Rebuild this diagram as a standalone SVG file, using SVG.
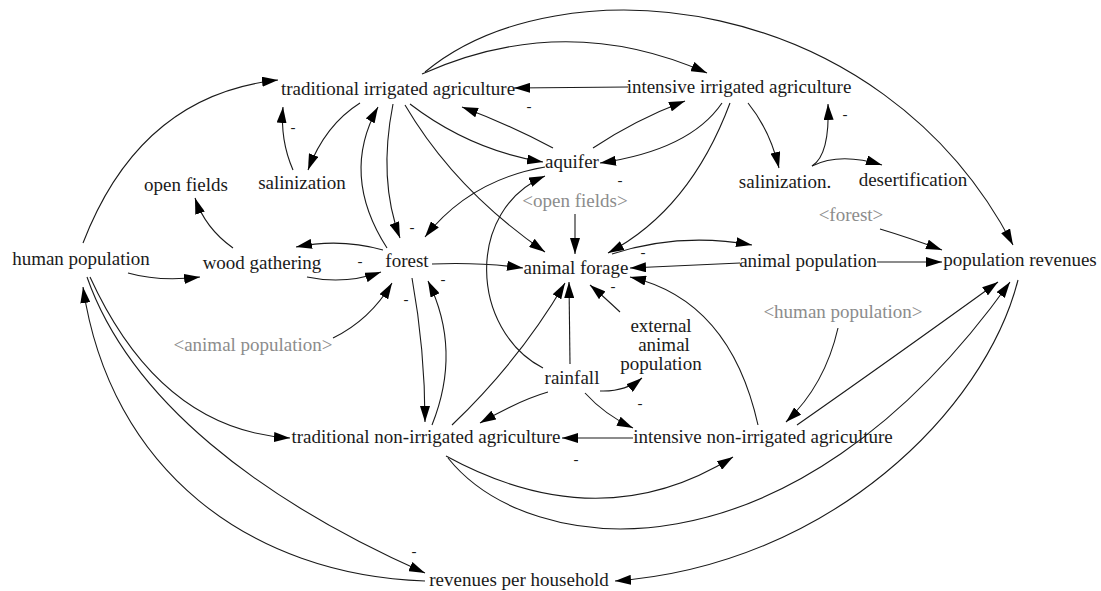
<svg xmlns="http://www.w3.org/2000/svg" width="1101" height="591" viewBox="0 0 1101 591">
<style>
.n{font-family:"Liberation Serif","Times New Roman",serif;font-size:19px;fill:#1a1a1a;text-anchor:middle}
.g{font-family:"Liberation Serif","Times New Roman",serif;font-size:19px;fill:#8c8c8c;text-anchor:middle}
.p{font-family:"Liberation Serif","Times New Roman",serif;font-size:15px;fill:#1a1a1a;text-anchor:middle}
.c{fill:none;stroke:#1a1a1a;stroke-width:1.1;marker-end:url(#ah)}
.c0{fill:none;stroke:#1a1a1a;stroke-width:1.1}
</style>
<defs>
<marker id="ah" markerUnits="userSpaceOnUse" markerWidth="17" markerHeight="10" refX="16" refY="5" orient="auto" viewBox="0 0 17 10">
<path d="M0,0 L16,5 L0,10 z" fill="#000"/>
</marker>
</defs>
<rect width="1101" height="591" fill="#fff"/>
<g id="connectors">
<path class="c" d="M83,243 Q140,95 278,80"/>
<path class="c" d="M422,74 Q565,10 707,73"/>
<path class="c" d="M425,72 C560,-40 880,-10 1013,245"/>
<path class="c" d="M628,87 L514,88"/>
<path class="c" d="M553,148 Q510,125 462,107"/>
<path class="c" d="M593,148 Q635,120 685,101"/>
<path class="c" d="M410,104 Q470,150 543,162"/>
<path class="c" d="M722,103 Q690,150 600,163"/>
<path class="c" d="M360,103 Q325,125 308,170"/>
<path class="c" d="M293,170 Q280,140 283,107"/>
<path class="c" d="M387,248 Q340,175 378,107"/>
<path class="c" d="M393,104 Q378,180 400,238"/>
<path class="c" d="M545,167 Q470,180 425,237"/>
<path class="c" d="M405,105 Q455,190 545,252"/>
<path class="c" d="M543,368 C470,330 465,210 545,176"/>
<path class="c" d="M575,214 L575,254"/>
<path class="c" d="M730,103 Q690,210 608,253"/>
<path class="c" d="M748,103 Q770,130 779,168"/>
<path class="c" d="M812,166 Q830,155 828,104"/>
<path class="c" d="M812,166 Q840,152 882,165"/>
<path class="c" d="M880,229 Q910,238 942,250"/>
<path class="c" d="M877,262 L942,262"/>
<path class="c" d="M612,254 Q680,232 752,245"/>
<path class="c" d="M740,263 L630,268"/>
<path class="c" d="M432,264 Q480,262 523,268"/>
<path class="c" d="M570,364 L569,282"/>
<path class="c" d="M452,425 Q520,360 565,283"/>
<path class="c" d="M620,312 Q603,296 590,285"/>
<path class="c" d="M758,425 Q730,300 630,277"/>
<path class="c" d="M838,328 Q825,385 786,422"/>
<path class="c" d="M548,392 Q520,400 480,423"/>
<path class="c" d="M585,393 Q605,415 633,428"/>
<path class="c" d="M600,391 Q625,392 642,378"/>
<path class="c" d="M633,438 L562,438"/>
<path class="c" d="M446,456 Q600,540 733,457"/>
<path class="c" d="M448,458 C530,560 790,590 1010,282"/>
<path class="c" d="M797,425 Q890,360 998,282"/>
<path class="c" d="M1018,280 C985,410 830,565 615,581"/>
<path class="c" d="M412,278 Q425,350 425,422"/>
<path class="c" d="M432,425 Q462,350 428,281"/>
<path class="c" d="M333,338 Q370,320 392,283"/>
<path class="c" d="M307,277 Q345,285 381,272"/>
<path class="c" d="M383,250 Q340,238 296,247"/>
<path class="c" d="M128,273 Q160,282 200,277"/>
<path class="c" d="M233,248 Q205,228 195,198"/>
<path class="c" d="M90,277 Q160,430 290,438"/>
<path class="c" d="M87,277 C130,400 260,500 425,573"/>
<path class="c" d="M425,581 C250,575 110,470 83,287"/>
</g>
<g id="polarity">
<text class="p" x="529" y="111">-</text>
<text class="p" x="620" y="185">-</text>
<text class="p" x="293" y="132">-</text>
<text class="p" x="845" y="119">-</text>
<text class="p" x="412" y="232">-</text>
<text class="p" x="360" y="266">-</text>
<text class="p" x="443" y="284">-</text>
<text class="p" x="406" y="304">-</text>
<text class="p" x="643" y="257">-</text>
<text class="p" x="613" y="291">-</text>
<text class="p" x="640" y="408">-</text>
<text class="p" x="576" y="464">-</text>
<text class="p" x="414" y="556">-</text>
</g>
<g id="traditional-irrigated-agriculture"><text class="n" x="398" y="95">traditional irrigated agriculture</text></g>
<g id="intensive-irrigated-agriculture"><text class="n" x="739" y="93">intensive irrigated agriculture</text></g>
<g id="salinization"><text class="n" x="302" y="189">salinization</text></g>
<g id="open-fields"><text class="n" x="186" y="191">open fields</text></g>
<g id="aquifer"><text class="n" x="572" y="168">aquifer</text></g>
<g id="salinization-2"><text class="n" x="785" y="188">salinization.</text></g>
<g id="desertification"><text class="n" x="913" y="186">desertification</text></g>
<g id="open-fields-shadow"><text class="g" x="575" y="207">&lt;open fields&gt;</text></g>
<g id="forest-shadow"><text class="g" x="851" y="221">&lt;forest&gt;</text></g>
<g id="human-population"><text class="n" x="81" y="265">human population</text></g>
<g id="wood-gathering"><text class="n" x="262" y="269">wood gathering</text></g>
<g id="forest"><text class="n" x="407" y="267">forest</text></g>
<g id="animal-forage"><text class="n" x="576" y="274">animal forage</text></g>
<g id="animal-population"><text class="n" x="808" y="267">animal population</text></g>
<g id="population-revenues"><text class="n" x="1020" y="266">population revenues</text></g>
<g id="animal-population-shadow"><text class="g" x="253" y="351">&lt;animal population&gt;</text></g>
<g id="human-population-shadow"><text class="g" x="843" y="318">&lt;human population&gt;</text></g>
<g id="external-animal-population"><text class="n" x="661" y="332">external</text><text class="n" x="664" y="351">animal</text><text class="n" x="661" y="370">population</text></g>
<g id="rainfall"><text class="n" x="572" y="384">rainfall</text></g>
<g id="traditional-non-irrigated-agriculture"><text class="n" x="426" y="443">traditional non-irrigated agriculture</text></g>
<g id="intensive-non-irrigated-agriculture"><text class="n" x="763" y="443">intensive non-irrigated agriculture</text></g>
<g id="revenues-per-household"><text class="n" x="519" y="586">revenues per household</text></g>
</svg>
